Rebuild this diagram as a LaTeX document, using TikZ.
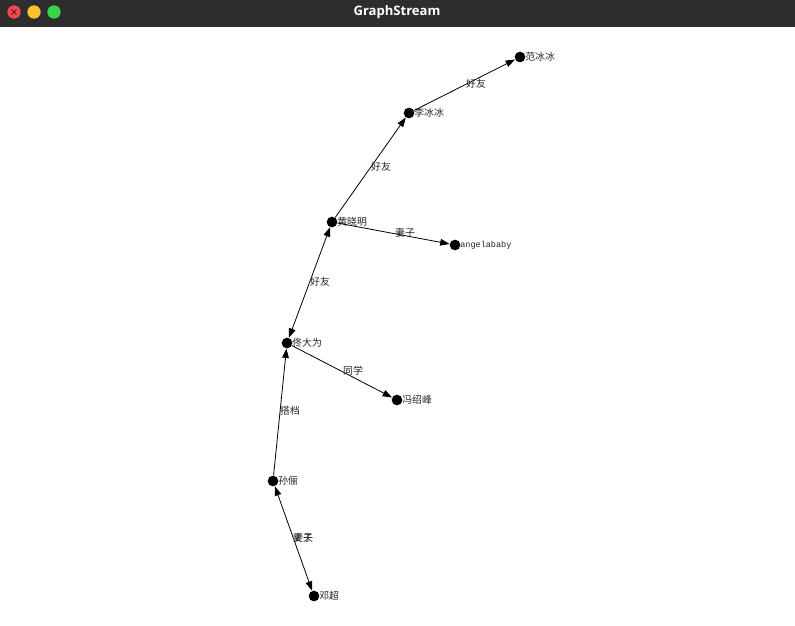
\documentclass[tikz,border=0pt]{standalone}
\usepackage{fontspec}
\newfontfamily\cjk{Noto Sans CJK SC}
\newfontfamily\titlefont{Open Sans}
\newfontfamily\monofont{Liberation Mono}
\usetikzlibrary{arrows.meta}
\definecolor{titlebg}{HTML}{2D2D2D}
\definecolor{btnred}{HTML}{F2474F}
\definecolor{btnyellow}{HTML}{F7C12F}
\definecolor{btngreen}{HTML}{3BD34A}
\tikzset{
  vtx/.style={circle, fill=black, inner sep=0pt, minimum size=8pt},
  vlab/.style={font=\cjk\fontsize{7.4}{8}\selectfont, inner sep=0pt, anchor=west, text=black!85},
  elab/.style={font=\cjk\fontsize{7.4}{8}\selectfont, inner sep=0pt, text=black!85},
  edge/.style={draw=black, line width=0.6pt, -{Triangle[length=7pt, width=5pt]}},
  bedge/.style={draw=black, line width=0.6pt, {Triangle[length=7pt, width=5pt]}-{Triangle[length=7pt, width=5pt]}},
  btn/.style={circle, inner sep=0pt, minimum size=10pt}
}
\begin{document}
\begin{tikzpicture}[x=0.75pt, y=-0.75pt]
\useasboundingbox (0,0) rectangle (795,625);
\fill[white] (0,0) rectangle (795,625);
\fill[titlebg] (0,0) rectangle (795,27);
\node[btn, fill=btnred] (close) at (14,12) {};
\draw[black!60!btnred, line width=0.6pt] ([shift={(-2.5,-2.5)}]close.center) -- ([shift={(2.5,2.5)}]close.center)
  ([shift={(-2.5,2.5)}]close.center) -- ([shift={(2.5,-2.5)}]close.center);
\node[btn, fill=btnyellow] (minb) at (34,12) {};
\node[btn, fill=btngreen] (maxb) at (54,12) {};
\node[text=white, font=\titlefont\bfseries\fontsize{9.8}{12}\selectfont] (title) at (397,12.5) {GraphStream};

\node[vtx] (fan) at (520,57) {};
\node[vtx] (li) at (409,113) {};
\node[vtx] (huang) at (332,222) {};
\node[vtx] (angela) at (455,245) {};
\node[vtx] (tong) at (287,343) {};
\node[vtx] (feng) at (397,400) {};
\node[vtx] (sun) at (273,481) {};
\node[vtx] (deng) at (314,596) {};

\node[vlab] (fanl) at (525,57) {范冰冰};
\node[vlab] (lil) at (414,113) {李冰冰};
\node[vlab] (huangl) at (337,222) {黄晓明};
\node[vlab, font=\monofont\fontsize{6.4}{7}\selectfont] (angelal) at (460,245) {angelababy};
\node[vlab] (tongl) at (292,343) {佟大为};
\node[vlab] (fengl) at (402,400) {冯绍峰};
\node[vlab] (sunl) at (278,481) {孙俪};
\node[vlab] (dengl) at (319,596) {邓超};

\draw[edge] (li) -- (fan);
\draw[edge] (huang) -- (li);
\draw[edge] (huang) -- (angela);
\draw[bedge] (tong) -- (huang);
\draw[edge] (tong) -- (feng);
\draw[edge] (sun) -- (tong);
\draw[bedge] (sun) -- (deng);

\node[elab] (e1) at (476,84) {好友};
\node[elab] (e2) at (381,167) {好友};
\node[elab] (e3) at (405,233) {妻子};
\node[elab] (e4) at (320,282) {好友};
\node[elab] (e5) at (353,371) {同学};
\node[elab] (e6) at (290,411) {搭档};
\node[elab] (e7) at (303,538) {妻子};
\node[elab] (e8) at (303,538) {丈夫};
\end{tikzpicture}
\end{document}
